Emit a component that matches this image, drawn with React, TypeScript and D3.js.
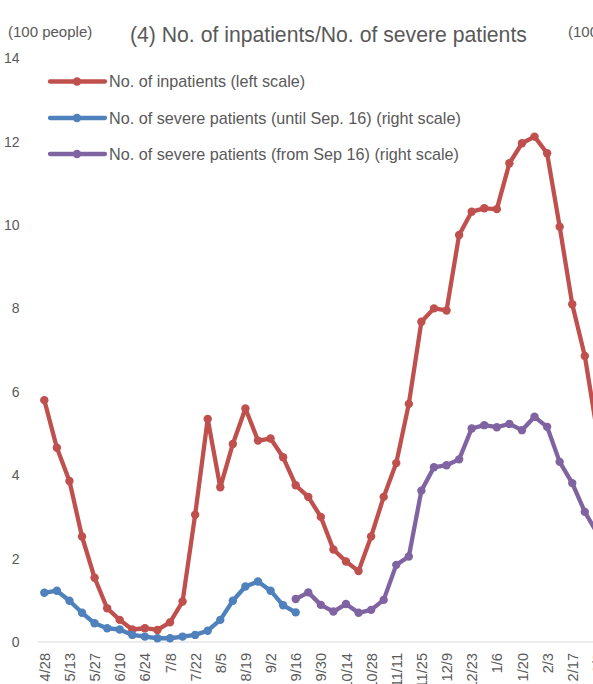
import React from "react";
import * as d3 from "d3";

const categories = [
  "4/28","5/6","5/13","5/20","5/27","6/3","6/10","6/17","6/24","7/1","7/8","7/15","7/22","7/29",
  "8/5","8/12","8/19","8/26","9/2","9/9","9/16","9/23","9/30","10/7","10/14","10/21","10/28","11/4",
  "11/11","11/18","11/25","12/2","12/9","12/16","12/23","12/30","1/6","1/13","1/20","1/27","2/3","2/10",
  "2/17","2/24","3/3",
];

const inpatients = [
  5.80,4.66,3.86,2.53,1.54,0.81,0.53,0.30,0.33,0.29,0.47,0.97,3.05,5.35,3.71,4.75,5.60,4.83,4.88,4.43,
  3.76,3.48,3.00,2.22,1.93,1.70,2.53,3.48,4.29,5.71,7.68,8.00,7.95,9.76,10.32,10.40,10.38,11.48,11.96,
  12.12,11.72,9.96,8.10,6.86,5.0,
];

// right scale, until Sep. 16 (index 0..20)
const severeUntil = [
  1.18,1.23,0.99,0.70,0.45,0.33,0.30,0.17,0.13,0.09,0.09,0.13,0.17,0.27,0.53,0.99,1.33,1.45,1.23,0.88,0.71,
];

// right scale, from Sep 16 (index 20..44)
const severeFrom = [
  1.03,1.19,0.89,0.73,0.91,0.70,0.77,1.01,1.85,2.05,3.63,4.19,4.24,4.38,5.12,5.20,5.15,5.23,5.08,5.40,
  5.16,4.32,3.81,3.12,2.6,
];

const leftTicks = [0, 2, 4, 6, 8, 10, 12, 14];

const legendItems = [
  { label: "No. of inpatients (left scale)", color: "#C0504D" },
  { label: "No. of severe patients (until Sep. 16) (right scale)", color: "#4F81BD" },
  { label: "No. of severe patients (from Sep 16) (right scale)", color: "#8064A2" },
];

const W = 593;
const H = 684;
const FONT = "'Liberation Sans', Arial, sans-serif";
const GREY = "#595959";

export default function App() {
  const x = d3
    .scalePoint<string>()
    .domain(categories)
    .range([44.3, 44.3 + 12.57 * (categories.length - 1)]);
  const y = d3.scaleLinear().domain([0, 14]).range([642, 58.2]);
  const yRight = d3.scaleLinear().domain([0, 14]).range([642, 58.2]);

  const redPts = inpatients.map((v, i) => [x(categories[i])!, y(v)] as [number, number]);
  const bluePts = severeUntil.map((v, i) => [x(categories[i])!, yRight(v)] as [number, number]);
  const purplePts = severeFrom.map((v, i) => [x(categories[i + 20])!, yRight(v)] as [number, number]);
  const line = d3.line<[number, number]>();

  const series = [
    { pts: redPts, color: legendItems[0].color },
    { pts: bluePts, color: legendItems[1].color },
    { pts: purplePts, color: legendItems[2].color },
  ];

  return (
    <svg
      width={W}
      height={H}
      style={{ position: "absolute", left: 0, top: 0, overflow: "hidden", background: "#fff" }}
      fontFamily={FONT}
    >
      <rect x={0} y={0} width={W} height={H} fill="#fff" />
      <text x={8} y={37} fontSize={15} fill={GREY}>(100 people)</text>
      <text x={568} y={37} fontSize={15} fill={GREY}>(100 people)</text>
      <text x={130} y={42} fontSize={21.2} fill={GREY}>(4) No. of inpatients/No. of severe patients</text>

      {leftTicks.map((t) => (
        <text key={t} x={19.5} y={y(t)} dy="0.35em" textAnchor="end" fontSize={14} fill={GREY}>
          {t}
        </text>
      ))}

      <line x1={38} x2={W + 20} y1={y(0)} y2={y(0)} stroke="#D9D9D9" strokeWidth={1.2} />

      {categories.map((c, i) =>
        i % 2 === 0 ? (
          <text
            key={c}
            transform={`translate(${x(c)! + 0.5},653) rotate(-90)`}
            dy="0.35em"
            textAnchor="end"
            fontSize={14.6}
            fill={GREY}
          >
            {c}
          </text>
        ) : null
      )}

      {series.map((s, k) => (
        <g key={k}>
          <path d={line(s.pts)!} fill="none" stroke={s.color} strokeWidth={4.3} strokeLinejoin="round" strokeLinecap="round" />
          {s.pts.map((p, i) => (
            <circle key={i} cx={p[0]} cy={p[1]} r={4.2} fill={s.color} />
          ))}
        </g>
      ))}

      {legendItems.map((it, i) => {
        const ly = [81.5, 118, 154][i];
        return (
          <g key={it.label}>
            <line x1={50} x2={105} y1={ly} y2={ly} stroke={it.color} strokeWidth={4.3} strokeLinecap="round" />
            <circle cx={77} cy={ly} r={4.2} fill={it.color} />
            <text x={109} y={ly} dy="0.35em" fontSize={16.2} fill={GREY}>{it.label}</text>
          </g>
        );
      })}
    </svg>
  );
}
